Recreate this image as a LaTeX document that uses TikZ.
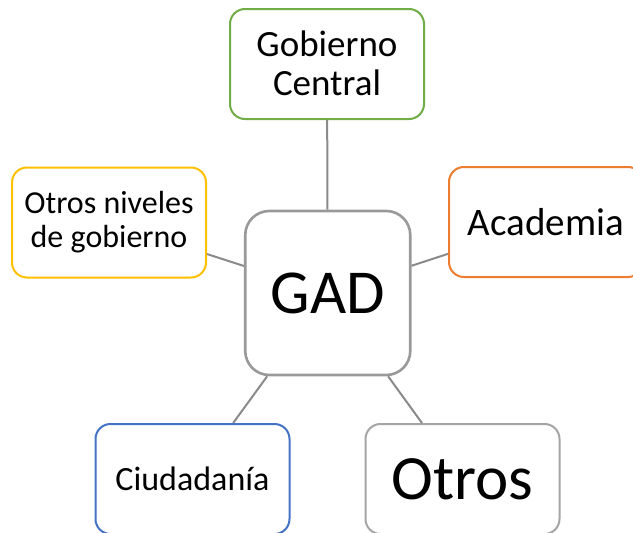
\documentclass[tikz,border=0pt]{standalone}
\usepackage{fontspec}
\setmainfont{Carlito}
\definecolor{cgreen}{HTML}{70AD47}
\definecolor{cyellow}{HTML}{FFC000}
\definecolor{corange}{HTML}{ED7D31}
\definecolor{cblue}{HTML}{4472C4}
\definecolor{cgray}{HTML}{A5A5A5}
\definecolor{cgad}{HTML}{999999}
\definecolor{cline}{HTML}{8A8A8A}
\begin{document}
\begin{tikzpicture}[x=1pt,y=-1pt,
  box/.style={draw, rectangle, rounded corners=15pt, line width=2pt, fill=white,
    minimum width=194pt, minimum height=110pt, inner sep=0pt, align=center, text=black},
  hub/.style={draw=cgad, rectangle, rounded corners=24pt, line width=2.6pt, fill=white,
    minimum width=165pt, minimum height=164pt, inner sep=0pt, align=center,
    font=\fontsize{62.5}{68}\selectfont},
  link/.style={draw=cline, line width=2pt}]
\clip (0,0) rectangle (633,533);
\fill[white] (0,0) rectangle (633,533);
\node[hub] (gad) at (327.75,293) {GAD};
\node[box, draw=cgreen, font=\fontsize{37}{39.5}\selectfont] (gc) at (327,64) {\raisebox{2pt}{Gobierno}\\\raisebox{2pt}{Central}};
\node[box, draw=cyellow, font=\fontsize{32}{34}\selectfont] (on) at (109,222.5) {Otros niveles\\de gobierno};
\node[box, draw=corange, font=\fontsize{39}{42}\selectfont] (ac) at (546,222) {Academia};
\node[box, draw=cblue, font=\fontsize{34}{38}\selectfont] (ci) at (192.5,479) {Ciudadanía};
\node[box, draw=cgray, font=\fontsize{63}{68}\selectfont] (ot) at (462.5,479) {Otros};
\draw[link] (gad) -- (gc);
\draw[link] (gad) -- (on);
\draw[link] (gad) -- (ac);
\draw[link] (gad) -- (ci);
\draw[link] (gad) -- (ot);
\end{tikzpicture}
\end{document}
